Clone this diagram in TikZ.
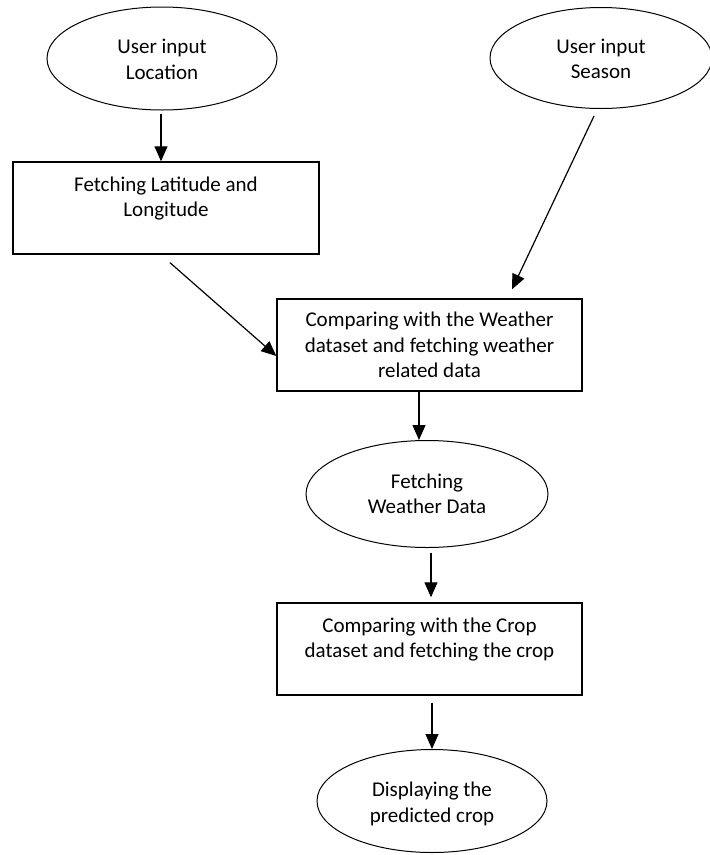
\documentclass[tikz,border=0pt]{standalone}
\usepackage{fontspec}
\setmainfont{Carlito}
\usetikzlibrary{shapes.geometric,arrows.meta,calc}

\tikzset{
  flowtext/.style={text=black, font=\fontsize{21}{25.5}\selectfont, align=center},
  oval/.style={ellipse, draw, line width=1pt, inner sep=0pt, flowtext},
  stepbox/.style={rectangle, draw, line width=1.4pt, inner sep=0pt, flowtext},
  flow/.style={line width=1.2pt, -{Triangle[length=15pt,width=13pt]}},
}
% top-aligned text block inside a box of given width and height
\newcommand{\toptext}[3]{\parbox[c][#2][t]{#1}{\centering\rule{0pt}{29pt}#3}}

\begin{document}
\begin{tikzpicture}[x=1pt,y=-1pt]
  \useasboundingbox (0,0) rectangle (710,855);

  % input ovals
  \node[oval, minimum width=230pt, minimum height=103pt] (e1) at (162,58.5)
    {\rule{0pt}{16pt}User input\\Location};
  \node[oval, minimum width=222pt, minimum height=101pt] (e2) at (601,58)
    {\rule{0pt}{16pt}User input\\Season};

  % processing steps
  \node[stepbox, minimum width=306pt, minimum height=92pt] (b1) at (166,208)
    {\toptext{306pt}{92pt}{Fetching Latitude and\\Longitude}};
  \node[stepbox, minimum width=305pt, minimum height=92pt] (b2) at (429.5,345)
    {Comparing with the Weather\\dataset and fetching weather\\related data};
  \node[oval, minimum width=242pt, minimum height=107pt] (e3) at (427,494)
    {Fetching\\Weather Data};
  \node[stepbox, minimum width=305pt, minimum height=92pt] (b3) at (429.5,649)
    {\toptext{305pt}{92pt}{Comparing with the Crop\\dataset and fetching the crop}};
  \node[oval, minimum width=230pt, minimum height=103pt] (e4) at (432,801)
    {\rule{0pt}{20pt}Displaying the\\predicted crop};

  % connector end points
  \coordinate (a1s) at ($(e1.south)+(-1,3)$);
  \coordinate (a4s) at ($(b2.south)+(-10.5,0)$);

  % connectors
  \draw[flow] (a1s) -- (a1s |- b1.north);
  \draw[flow] ($(e2.south)+(-7,7)$) -- ($(b2.north)+(82.5,-9)$);
  \draw[flow] ($(b1.south)+(4,8)$) -- ($(b2.west)+(0,11)$);
  \draw[flow] (a4s) -- (a4s |- e3.north);
  \draw[flow] ($(e3.south)+(4,4.5)$) -- ($(b3.north)+(1.5,-5)$);
  \draw[flow] ($(b3.south)+(2.5,7)$) -- (e4.north);
\end{tikzpicture}
\end{document}
